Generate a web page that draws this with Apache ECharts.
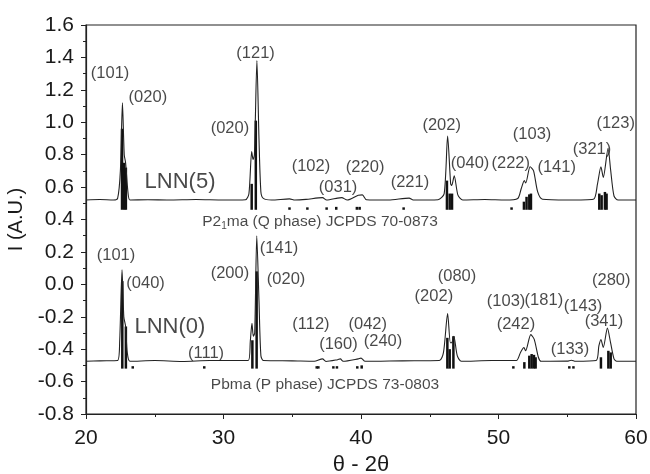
<!DOCTYPE html>
<html>
<head>
<meta charset="utf-8">
<script src="https://cdn.jsdelivr.net/npm/echarts@6/dist/echarts.min.js"></script>
<style>html,body{margin:0;padding:0;background:#fff}#c{width:650px;height:474px}</style>
</head>
<body>
<div id="c"></div>
<script>
// ---- data ----
const xTicks = [20, 30, 40, 50, 60];
const yTicks = [-0.8, -0.6, -0.4, -0.2, 0.0, 0.2, 0.4, 0.6, 0.8, 1.0, 1.2, 1.4, 1.6];

// LNN(5) diffraction pattern [2theta, intensity]
const lnn5Curve = [
  [20.0,0.52],[21.0,0.523],[22.0,0.52],[22.3,0.53],[22.5,0.70],[22.65,1.12],[22.78,0.80],[22.88,0.75],[23.05,0.57],[23.2,0.52],
  [24.5,0.522],[26.0,0.52],[28.0,0.523],[30.0,0.52],[31.6,0.522],[31.85,0.56],[32.05,0.82],[32.15,0.77],[32.25,0.80],[32.43,1.38],
  [32.58,0.90],[32.72,0.57],[32.9,0.53],[33.5,0.52],[34.8,0.527],[35.2,0.52],[36.0,0.524],[37.2,0.535],[37.5,0.52],[38.3,0.532],
  [38.6,0.535],[39.0,0.52],[39.8,0.55],[40.1,0.552],[40.4,0.522],[42.0,0.52],[43.5,0.532],[43.8,0.52],[45.6,0.522],[46.05,0.56],
  [46.3,0.915],[46.52,0.62],[46.6,0.61],[46.78,0.67],[47.05,0.55],[47.4,0.52],[49.0,0.523],[50.5,0.52],[51.4,0.53],[51.65,0.59],
  [51.88,0.64],[51.98,0.625],[52.3,0.725],[52.55,0.70],[52.85,0.57],[53.2,0.525],[55.0,0.52],[56.9,0.525],[57.2,0.62],[57.45,0.725],
  [57.62,0.66],[57.97,0.84],[58.15,0.71],[58.4,0.545],[58.7,0.52],[60.0,0.52]
];

// LNN(0) diffraction pattern [2theta, intensity]
const lnn0Curve = [
  [20.0,-0.475],[21.0,-0.472],[22.3,-0.47],[22.45,-0.35],[22.62,0.09],[22.75,-0.20],[22.88,-0.26],[23.0,-0.42],[23.2,-0.475],
  [25.0,-0.47],[27.0,-0.476],[29.0,-0.47],[31.8,-0.47],[31.95,-0.35],[32.07,-0.24],[32.17,-0.32],[32.27,-0.30],[32.42,0.30],
  [32.58,-0.10],[32.72,-0.44],[32.9,-0.47],[35.0,-0.472],[36.6,-0.475],[37.2,-0.46],[37.45,-0.476],[38.3,-0.465],[38.5,-0.46],
  [38.7,-0.475],[39.8,-0.46],[40.0,-0.455],[40.3,-0.475],[43.0,-0.472],[45.7,-0.47],[46.0,-0.42],[46.3,-0.18],[46.5,-0.36],
  [46.6,-0.36],[46.75,-0.32],[47.0,-0.44],[47.3,-0.475],[49.5,-0.47],[51.3,-0.47],[51.6,-0.42],[51.85,-0.39],[51.97,-0.41],
  [52.35,-0.31],[52.6,-0.34],[52.9,-0.45],[53.1,-0.475],[55.0,-0.474],[55.3,-0.468],[55.6,-0.475],[57.1,-0.47],[57.3,-0.38],
  [57.45,-0.34],[57.62,-0.39],[57.92,-0.27],[58.15,-0.36],[58.4,-0.46],[58.6,-0.475],[60.0,-0.475]
];

// JCPDS 70-0873 reference sticks [2theta, top]; base level below
const qBase = 0.46;
const qSticks = [
  [22.62,0.96],[22.78,0.75],[22.9,0.72],[32.05,0.62],[32.35,1.01],[34.8,0.475],[36.1,0.475],[37.5,0.475],[38.2,0.478],
  [39.7,0.478],[39.9,0.478],[43.1,0.475],[46.25,0.64],[46.45,0.56],[46.62,0.56],[50.95,0.475],[51.85,0.51],[52.04,0.54],
  [52.24,0.555],[52.36,0.56],[57.33,0.56],[57.5,0.55],[57.74,0.57],[57.86,0.56]
];

// JCPDS 73-0803 reference sticks [2theta, top]; base level below
const pBase = -0.52;
const pSticks = [
  [22.64,0.02],[22.9,-0.26],[23.4,-0.505],[28.6,-0.505],[32.1,-0.345],[32.41,0.08],[36.78,-0.505],[36.9,-0.505],
  [37.99,-0.505],[38.25,-0.505],[39.73,-0.505],[40.05,-0.5],[46.28,-0.33],[46.45,-0.40],[46.72,-0.32],[51.08,-0.505],
  [51.88,-0.48],[52.24,-0.44],[52.41,-0.43],[52.58,-0.435],[52.7,-0.45],[55.15,-0.505],[55.45,-0.505],
  [57.45,-0.45],[57.99,-0.41],[58.16,-0.42]
];

// Miller index annotations [2theta, intensity, text]
const millerLabels = [
  [21.75,1.30,'(101)'],[24.5,1.155,'(020)'],[30.47,0.96,'(020)'],[32.33,1.427,'(121)'],[36.36,0.73,'(102)'],
  [38.33,0.596,'(031)'],[40.3,0.72,'(220)'],[43.56,0.627,'(221)'],[45.87,0.983,'(202)'],[47.93,0.748,'(040)'],
  [50.89,0.748,'(222)'],[52.44,0.925,'(103)'],[54.23,0.72,'(141)'],[56.8,0.835,'(321)'],[58.52,0.99,'(123)'],
  [22.18,0.18,'(101)'],[24.33,0.005,'(040)'],[28.73,-0.425,'(111)'],[30.47,0.067,'(200)'],[34.04,0.22,'(141)'],
  [34.55,0.032,'(020)'],[36.36,-0.25,'(112)'],[38.36,-0.37,'(160)'],[40.49,-0.248,'(042)'],[41.6,-0.355,'(240)'],
  [46.98,0.046,'(080)'],[45.3,-0.077,'(202)'],[50.55,-0.108,'(103)'],[53.3,-0.10,'(181)'],[56.15,-0.135,'(143)'],
  [51.27,-0.25,'(242)'],[55.2,-0.40,'(133)'],[58.2,0.026,'(280)'],[57.67,-0.23,'(341)']
];
const sampleLabels = [[26.84,0.633,'LNN(5)'],[26.1,-0.26,'LNN(0)']];
const phaseLabels = [
  [37.02,0.386,'P2{s|1}ma (Q phase) JCPDS 70-0873'],
  [37.38,-0.622,'Pbma (P phase) JCPDS 73-0803']
];

// ---- chart ----
const FONT = 'Liberation Sans, Arial, Helvetica, sans-serif';
const chart = echarts.init(document.getElementById('c'), null, {renderer: 'canvas'});

function stickSeries(data, base) {
  return {
    type: 'custom',
    data: data.map(d => [d[0], d[1], base]),
    silent: true,
    z: 3,
    renderItem: function (params, api) {
      const x = api.value(0), top = api.value(1), b = api.value(2);
      const p1 = api.coord([x, b]);
      const p2 = api.coord([x, top]);
      return {
        type: 'rect',
        shape: {x: p1[0] - 1.25, y: p2[1], width: 2.5, height: p1[1] - p2[1]},
        style: {fill: '#111'}
      };
    }
  };
}

function textSeries(data, size, extraRich) {
  return {
    type: 'scatter',
    symbolSize: 0,
    silent: true,
    z: 5,
    data: data.map(d => ({value: [d[0], d[1]], name: d[2]})),
    label: {
      show: true,
      position: 'inside',
      formatter: p => p.name,
      color: '#1a1a1a',
      fontFamily: FONT,
      fontSize: size,
      lineHeight: size + 4,
      rich: extraRich || {}
    }
  };
}

const axisLineStyle = {onZero: false, lineStyle: {color: '#222', width: 1.2}};

chart.setOption({
  animation: false,
  backgroundColor: '#fff',
  grid: {left: 86, right: 14, top: 25, bottom: 60, containLabel: false, outerBoundsMode: 'none',
    show: true, borderColor: '#222', borderWidth: 1.2, backgroundColor: 'transparent'},
  xAxis: {
    type: 'value', min: xTicks[0], max: xTicks[xTicks.length - 1], interval: 10,
    name: 'θ - 2θ', nameLocation: 'middle', nameGap: 39,
    nameTextStyle: {fontFamily: FONT, fontSize: 22, color: '#1a1a1a'},
    axisLine: axisLineStyle,
    axisTick: {show: true, inside: false, length: 5, lineStyle: {color: '#222'}},
    minorTick: {show: true, splitNumber: 2, length: 3, lineStyle: {color: '#222'}},
    splitLine: {show: false},
    axisLabel: {fontFamily: FONT, fontSize: 21, color: '#1a1a1a', margin: 14,
      customValues: xTicks, formatter: v => String(v)}
  },
  yAxis: {
    type: 'value', min: yTicks[0], max: yTicks[yTicks.length - 1], interval: 0.2,
    name: 'I (A.U.)', nameLocation: 'middle', nameGap: 54,
    nameTextStyle: {fontFamily: FONT, fontSize: 20, color: '#1a1a1a'},
    axisLine: axisLineStyle,
    axisTick: {show: true, inside: false, length: 5, lineStyle: {color: '#222'}},
    minorTick: {show: true, splitNumber: 2, length: 3, lineStyle: {color: '#222'}},
    splitLine: {show: false},
    axisLabel: {fontFamily: FONT, fontSize: 21, color: '#1a1a1a', margin: 12,
      formatter: v => (Math.abs(v) < 1e-9 ? 0 : v).toFixed(1)}
  },
  series: [
    {type: 'line', data: lnn5Curve, showSymbol: false, symbol: 'none', smooth: 0.25, z: 4,
      lineStyle: {color: '#222', width: 1.1}},
    {type: 'line', data: lnn0Curve, showSymbol: false, symbol: 'none', smooth: 0.25, z: 4,
      lineStyle: {color: '#222', width: 1.1}},
    stickSeries(qSticks, qBase),
    stickSeries(pSticks, pBase),
    textSeries(millerLabels, 16.5),
    textSeries(sampleLabels, 22),
    textSeries(phaseLabels, 15.5, {s: {fontSize: 10, fontFamily: FONT, color: '#1a1a1a', verticalAlign: 'bottom', lineHeight: 8}})
  ]
});
</script>
</body>
</html>
